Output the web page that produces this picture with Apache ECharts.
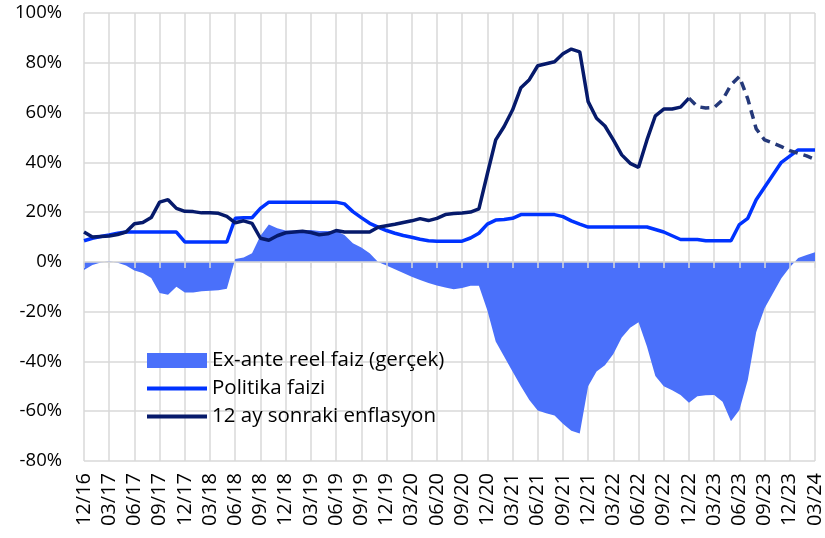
<!DOCTYPE html>
<html>
<head>
<meta charset="utf-8">
<script src="https://cdn.jsdelivr.net/npm/echarts@6/dist/echarts.min.js"></script>
<style>
  html, body { margin: 0; padding: 0; background: #fff; }
  #chart { width: 825px; height: 538px; }
</style>
</head>
<body>
<div id="chart"></div>
<script>
// aylar: 12/16 .. 03/24 (aylik)
var months = [];
for (var y = 2016, m = 12; y < 2024 || (y === 2024 && m <= 3); ) {
  months.push((m < 10 ? '0' + m : '' + m) + '/' + String(y).slice(2));
  m++;
  if (m > 12) { m = 1; y++; }
}

// Ex-ante reel faiz (gerçek), %
var realRate = [
  -3.3, -1.3, -0.2, 0.3, -0.3, -1.5, -3.5, -4.5, -6.5, -12.5,
  -13.2, -10, -12.3, -12.3, -11.8, -11.6, -11.4, -10.8, 1.2, 1.8,
  3.5, 10.5, 15, 13.5, 12.6, 12.6, 12.6, 12.8, 12.4, 12.4,
  12.4, 10.8, 7.5, 5.8, 3.5, 0, -1.5, -3, -4.5, -6,
  -7.3, -8.5, -9.5, -10.3, -11, -10.5, -9.6, -9.6, -19.4, -32,
  -38, -44, -50, -55.5, -59.7, -60.8, -61.7, -65, -67.8, -69,
  -50, -44, -41.5, -37, -30.4, -26.5, -24.3, -34, -45.8, -50,
  -51.6, -53.5, -56.6, -54, -53.6, -53.5, -56.2, -64, -59.5, -47.5,
  -28.3, -18.6, -12.6, -6.6, -2.2, 1.6, 2.8, 3.9
];

// Politika faizi, %
var policyRate = [
  8.5, 9.5, 10.2, 10.8, 11.5, 12, 12, 12, 12, 12,
  12, 12, 8, 8, 8, 8, 8, 8, 17.5, 17.75,
  17.75, 21.5, 24, 24, 24, 24, 24, 24, 24, 24,
  24, 23.3, 20.2, 17.8, 15.5, 14, 12.6, 11.5, 10.6, 9.9,
  9.1, 8.5, 8.3, 8.3, 8.3, 8.3, 9.6, 11.5, 15.2, 16.8,
  17, 17.5, 19, 19, 19, 19, 19, 18.2, 16.5, 15.2,
  14, 14, 14, 14, 14, 14, 14, 14, 13, 12,
  10.5, 9, 9, 9, 8.5, 8.5, 8.5, 8.5, 15, 17.5,
  25, 30, 35, 40, 42.5, 45, 45, 45
];

// 12 ay sonraki enflasyon (gerçekleşen), 12/22'ye kadar
var inflation = [
  12, 10, 10.2, 10.4, 11, 12, 15.3, 15.8, 17.8, 24,
  25, 21.5, 20.3, 20.2, 19.7, 19.7, 19.5, 18.3, 15.7, 16.5,
  15.5, 9.5, 8.7, 10.5, 11.7, 12, 12.3, 11.8, 10.9, 11.3,
  12.6, 12, 12, 12, 12, 13.9, 14.5, 15.1, 15.8, 16.5,
  17.4, 16.6, 17.5, 19, 19.4, 19.6, 20, 21.3, 35.3, 49,
  54.4, 61, 70, 73.2, 78.8, 79.6, 80.4, 83.6, 85.5, 84.4,
  64.4, 57.7, 54.6, 49, 43, 39.6, 38, 49, 58.7, 61.4,
  61.4, 62.2, 65.8
];

// beklenti kismi (kesikli), 12/22 - 03/24
var expected = [
  65.8, 62.4, 61.8, 62, 65.1, 71.1, 74.5, 65.5, 53.5, 49,
  47.7, 46.3, 44.7, 43.6, 42.6, 41.2
];

var yTicks = { min: -80, max: 100, step: 20 };

var expStart = months.length - expected.length;
var inflData = months.map(function (_, i) { return i < inflation.length ? inflation[i] : null; });
var expData = months.map(function (_, i) { return i >= expStart ? expected[i - expStart] : null; });

var gridColor = '#d9d9d9';
var fontFam = '"Open Sans", "Noto Sans", sans-serif';

var chart = echarts.init(document.getElementById('chart'));
var option = {
  animation: false,
  backgroundColor: '#fff',
  grid: { left: 84, right: 10, top: 13, bottom: 77 },
  legend: {
    orient: 'vertical',
    left: 145,
    top: 350,
    padding: 0,
    itemWidth: 60,
    itemHeight: 15,
    itemGap: 7,
    selectedMode: false,
    textStyle: { fontSize: 20.5, color: '#000', fontFamily: fontFam },
    data: [
      { name: 'Ex-ante reel faiz (gerçek)', icon: 'rect' },
      // daireyi gizle, sadece cizgi kalsin
      { name: 'Politika faizi', itemStyle: { opacity: 0 }, lineStyle: { width: 4 } },
      { name: '12 ay sonraki enflasyon', itemStyle: { opacity: 0 }, lineStyle: { width: 4 } }
    ]
  },
  xAxis: [{
    type: 'category',
    data: months,
    boundaryGap: false,
    axisLine: { show: false, onZero: false },
    axisTick: { show: false },
    axisLabel: {
      interval: 2,
      rotate: 90,
      margin: 12,
      fontSize: 20,
      color: '#000',
      fontFamily: fontFam
    },
    splitLine: { show: true, interval: 2, lineStyle: { color: gridColor, width: 1.5 } }
  }, {
    // sifir cizgisi ve tikler
    type: 'category',
    data: months,
    boundaryGap: false,
    position: 'bottom',
    z: 5,
    axisLine: { show: true, onZero: true, lineStyle: { color: gridColor, width: 1.5 } },
    axisTick: { show: true, interval: 2, length: 6, lineStyle: { color: gridColor, width: 1.5 } },
    axisLabel: { show: false },
    splitLine: { show: false }
  }],
  yAxis: {
    type: 'value',
    min: yTicks.min,
    max: yTicks.max,
    interval: yTicks.step,
    axisLine: { show: false },
    axisTick: { show: false },
    axisLabel: {
      formatter: '{value}%',
      fontSize: 18.5,
      margin: 22,
      color: '#000',
      fontFamily: fontFam
    },
    splitLine: { lineStyle: { color: gridColor, width: 1.5 } }
  },
  series: [{
    name: 'Ex-ante reel faiz (gerçek)',
    type: 'line',
    data: realRate,
    symbol: 'none',
    lineStyle: { width: 0 },
    itemStyle: { color: '#4A70FA' },
    areaStyle: { color: '#4A70FA', opacity: 1 },
    z: 1
  }, {
    name: 'Politika faizi',
    type: 'line',
    data: policyRate,
    symbol: 'none',
    itemStyle: { color: '#0033FF' },
    lineStyle: { color: '#0033FF', width: 3.5 },
    z: 3
  }, {
    name: '12 ay sonraki enflasyon',
    type: 'line',
    data: inflData,
    symbol: 'none',
    itemStyle: { color: '#061A6B' },
    lineStyle: { color: '#061A6B', width: 3.5 },
    z: 4
  }, {
    name: 'Beklenti',
    type: 'line',
    data: expData,
    symbol: 'none',
    itemStyle: { color: '#25397A' },
    lineStyle: { color: '#25397A', width: 3.5, type: [9, 6] },
    z: 4
  }]
};
chart.setOption(option);
</script>
</body>
</html>
